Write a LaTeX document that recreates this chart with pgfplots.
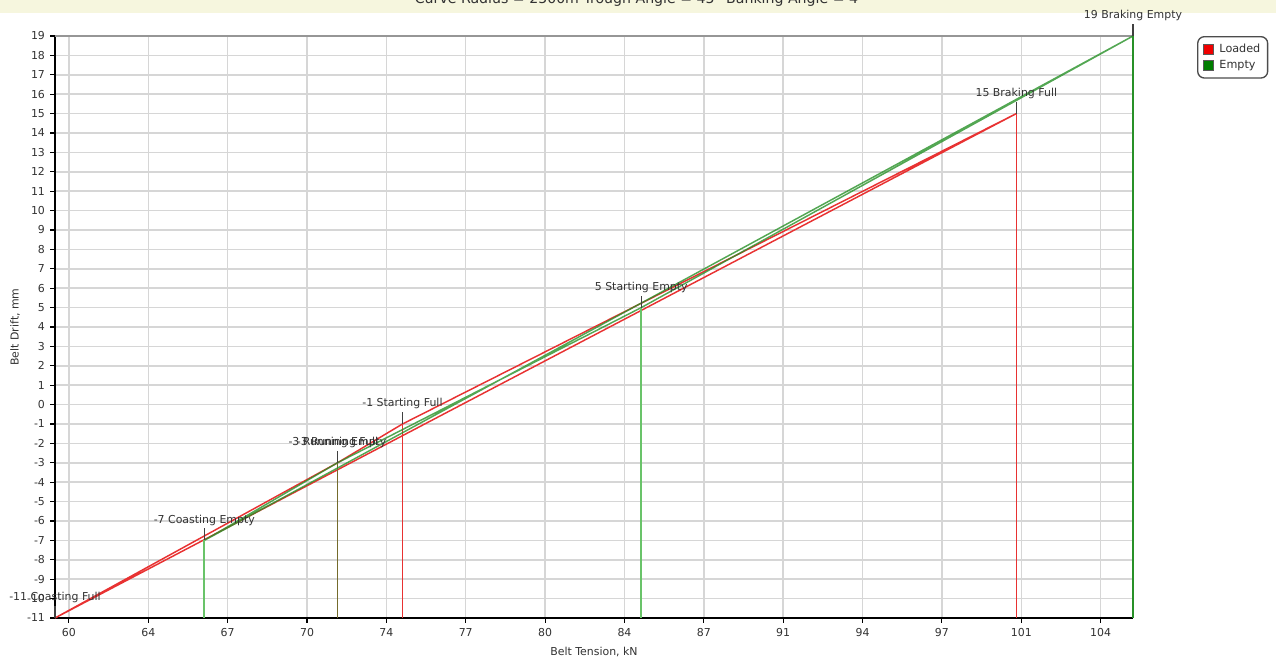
\documentclass[border=0pt]{standalone}
\usepackage{fontspec}
\setmainfont{DejaVu Sans}
\usepackage{pgfplots}
\usepackage{pgfplotstable}
\pgfplotsset{compat=1.18}
\definecolor{redc}{RGB}{232,50,50}
\definecolor{greenc}{RGB}{40,145,40}
\definecolor{dropgreen}{RGB}{105,195,105}
\definecolor{gridc}{RGB}{214,214,214}
\definecolor{textc}{RGB}{50,50,50}
\definecolor{legred}{RGB}{240,0,0}
\definecolor{leggreen}{RGB}{0,125,0}
\definecolor{bandc}{RGB}{246,246,222}
\definecolor{borderc}{RGB}{150,150,150}

\pgfplotstableread[col sep=comma]{
x,y,label
59.71,-11,-11 Coasting Full
71.67,-3,-3 Running Full
74.42,-1,-1 Starting Full
100.41,15,15 Braking Full
66.03,-7,-7 Coasting Empty
71.67,-3,-3 Running Empty
84.53,5,5 Starting Empty
105.35,19,19 Braking Empty
}\labeltab

\begin{document}
\begin{tikzpicture}
\path[use as bounding box] (-41.25pt,-32.25pt) rectangle (915.75pt,463.5pt);
\fill[bandc] (-41.25pt,463.5pt) rectangle (915.75pt,453.5pt);
\node[anchor=base, font=\fontsize{10.6}{12}\selectfont, text=textc] at (438.75pt,460.5pt) {Curve Radius = 2500m Trough Angle = 45° Banking Angle = 4°};
\begin{axis}[
  name=ax, at={(0,0)}, anchor=south west,
  scale only axis, width=808.5pt, height=436.5pt,
  xmin=59.71, xmax=105.35, ymin=-11, ymax=19,
  xtick={60.30,63.66,67.02,70.38,73.74,77.10,80.46,83.82,87.18,90.54,93.90,97.26,100.62,103.98},
  xticklabels={60,64,67,70,74,77,80,84,87,91,94,97,101,104},
  ytick={-11,-10,...,19},
  axis lines*=left,
  axis line style={black, line width=1.5pt},
  tick align=outside, major tick length=3.5pt,
  tick style={black, line width=0.8pt},
  grid=major, major grid style={gridc, line width=1.1pt},
  /pgf/number format/assume math mode=true,
  ticklabel style={font=\fontsize{8.2}{10}\selectfont, text=textc},
  yticklabel style={xshift=-0.5pt},
  xticklabel style={yshift=-1pt},
  label style={font=\fontsize{8.2}{10}\selectfont, text=textc},
  xlabel={Belt Tension, kN}, ylabel={Belt Drift, mm},
  xlabel style={at={(axis description cs:0.5,-0.0584)}, anchor=center},
  ylabel style={at={(axis description cs:-0.0371,0.5)}, anchor=center},
  clip=false,
  unbounded coords=jump,
  legend style={at={(1.0594,1)}, anchor=north west, draw=black!70, line width=1pt,
    rounded corners=5pt, fill=white, font=\fontsize{8.4}{10}\selectfont, text=textc,
    inner xsep=4pt, inner ysep=4pt, row sep=1.5pt, nodes={inner sep=1.5pt},
    /tikz/every odd column/.append style={column sep=3pt}},
  legend cell align=left,
  legend image code/.code={\draw[#1,draw=black!65,line width=0.6pt,sharp corners] (0pt,-3.6pt) rectangle (7.2pt,3.6pt);},
]
\addlegendimage{fill=legred}
\addlegendentry{Loaded}
\addlegendimage{fill=leggreen}
\addlegendentry{Empty}

\draw[borderc, line width=1.2pt] (rel axis cs:0,1) -- (rel axis cs:1,1) -- (rel axis cs:1,0);

% Loaded series (closed polygon)
\addplot[redc, line width=1.1pt, forget plot] coordinates {
 (59.71,-11) (71.67,-3) (74.42,-1) (100.41,15) (59.71,-11)};
% drop lines loaded
\addplot[redc, line width=1pt, forget plot] coordinates {
 (71.67,-11) (71.67,-3) (nan,nan)
 (74.42,-11) (74.42,-1) (nan,nan)
 (100.41,-11) (100.41,15)};

% Empty series (closed polygon)
\addplot[greenc, opacity=0.8, line width=1.1pt, forget plot] coordinates {
 (66.03,-7) (71.67,-3) (84.53,5) (105.35,19) (66.03,-7)};
% drop lines empty
\addplot[dropgreen, line width=1.2pt, forget plot] coordinates {
 (66.03,-11) (66.03,-7) (nan,nan)
 (84.53,-11) (84.53,5)};
\addplot[greenc, opacity=0.6, line width=1pt, forget plot] coordinates {(71.67,-11) (71.67,-3)};
\addplot[greenc, line width=1.1pt, forget plot] coordinates {(105.35,-11) (105.35,19)};

% callout ticks
\addplot[black!75, line width=0.9pt, forget plot] coordinates {
 (59.71,-11) (59.71,-10.38) (nan,nan)
 (71.67,-3) (71.67,-2.38) (nan,nan)
 (74.42,-1) (74.42,-0.38) (nan,nan)
 (100.41,15) (100.41,15.62) (nan,nan)
 (66.03,-7) (66.03,-6.38) (nan,nan)
 (84.53,5) (84.53,5.62) (nan,nan)
 (105.35,19) (105.35,19.62)};

% labels
\addplot[only marks, mark=none, forget plot,
  point meta=explicit symbolic,
  nodes near coords,
  nodes near coords align={anchor=base},
  every node near coord/.append style={anchor=base, yshift=13pt, inner sep=0pt,
     font=\fontsize{8.2}{10}\selectfont, text=textc}]
  table[x=x, y=y, meta=label]{\labeltab};
\end{axis}
\end{tikzpicture}
\end{document}
